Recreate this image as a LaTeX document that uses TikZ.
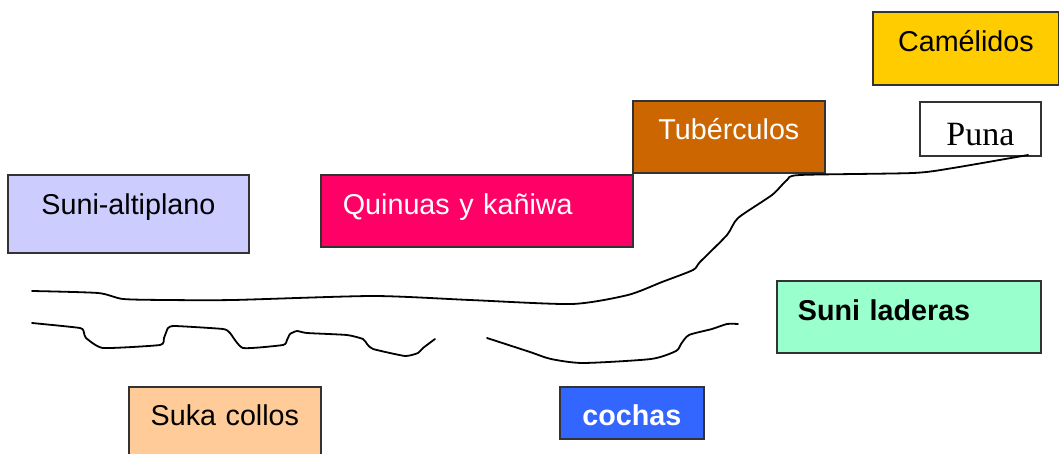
\documentclass[tikz,border=0pt]{standalone}
\usepackage{fontspec}
\setmainfont{Liberation Serif}
\setsansfont{Liberation Sans}
\usepackage{xcolor}
\definecolor{camelido}{HTML}{FFCC00}
\definecolor{tuberculo}{HTML}{CC6600}
\definecolor{altiplano}{HTML}{CCCCFF}
\definecolor{quinua}{HTML}{FF0066}
\definecolor{ladera}{HTML}{99FFCC}
\definecolor{sukacollo}{HTML}{FFCC99}
\definecolor{cocha}{HTML}{3366FF}
\tikzset{
  zone/.style={draw=black!80, line width=1.8pt, inner sep=0pt, anchor=north west,
    font=\sffamily\fontsize{28.7}{30}\selectfont},
  terrain/.style={line width=1.8pt, line join=round, line cap=round}
}

\begin{document}
\begin{tikzpicture}[x=1pt, y=-1pt]
    \useasboundingbox (0,0) rectangle (1059,454);
    % zonas y cultivos
    \node[zone, fill=camelido, text width=186pt, align=center, text height=40pt, text depth=33pt]
      (camelidos) at (872,11) {Cam\'elidos};
    \node[zone, fill=tuberculo, text=white, text width=192pt, align=center, text height=39pt, text depth=33pt]
      (tuberculos) at (632,100) {Tub\'erculos};
    \node[zone, fill=white, font=\rmfamily\fontsize{34}{36}\selectfont, text width=121pt, align=center, text height=44pt, text depth=10pt]
      (puna) at (919,101) {Puna};
    \node[zone, fill=altiplano, text width=241pt, align=center, text height=40pt, text depth=38pt]
      (altiplano) at (7,174) {Suni-altiplano};
    \node[zone, fill=quinua, text=white, inner xsep=22pt, text width=268pt, align=left, text height=40pt, text depth=32pt]
      (quinuas) at (320,174) {Quinuas y ka\~niwa};
    \node[zone, fill=ladera, font=\sffamily\bfseries\fontsize{28.7}{30}\selectfont, inner xsep=21pt, text width=222pt, align=left, text height=40pt, text depth=32pt]
      (laderas) at (776,280) {Suni laderas};
    \node[zone, fill=sukacollo, text width=192pt, align=center, text height=39pt, text depth=40pt]
      (sukacollos) at (128,386) {Suka collos};
    \node[zone, fill=cocha, text=white, font=\sffamily\bfseries\fontsize{28.7}{30}\selectfont, text width=144pt, align=center, text height=39pt, text depth=13pt]
      (cochas) at (559,386) {cochas};
    % perfil del terreno
    \draw[terrain] plot[smooth, tension=0.4] coordinates {
      (32,291) (98,293) (123,299) (167,300) (233,300) (373,296) (470,300)
      (572,304) (628,295) (662,282) (693,270) (700,262) (727,235) (738,218)
      (772,195) (787,180) (800,175) (913,173) (953,168) (1028,155)};
    \draw[terrain] plot[smooth, tension=0.3] coordinates {
      (32,323) (80,328) (84,333) (86,338) (103,348) (160,345) (164,338)
      (168,328) (175,326) (223,329) (230,333) (243,348) (283,345) (287,340)
      (290,334) (297,331) (307,333) (347,335) (363,339) (367,344) (373,349)
      (405,356) (418,353) (423,348) (435,339)};
    \draw[terrain] plot[smooth, tension=0.4] coordinates {
      (487,338) (530,352) (551,359) (583,363) (651,359) (676,351) (681,344)
      (689,335) (712,329) (727,324) (738,324)};
  \end{tikzpicture}
\end{document}
